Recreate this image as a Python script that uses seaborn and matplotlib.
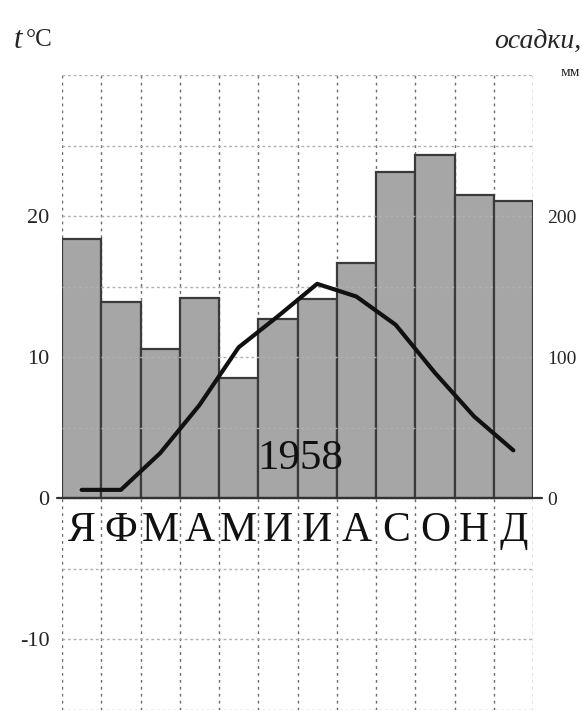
import numpy as np
import pandas as pd
import matplotlib
matplotlib.use("Agg")
import matplotlib.pyplot as plt
import seaborn as sns

months = ["Я", "Ф", "М", "А", "М", "И", "И", "А", "С", "О", "Н", "Д"]
precip_mm = [184, 139, 106, 142, 85, 127, 141, 167, 231, 243, 215, 211]
temp_c = [0.6, 0.6, 3.2, 6.6, 10.7, 12.9, 15.2, 14.3, 12.3, 8.9, 5.8, 3.4]
temp_ticks = [-10, 0, 10, 20]
precip_ticks = [0, 100, 200]
year_label = "1958"

sns.set_theme(style="white")
plt.rcParams["font.family"] = ["Liberation Serif", "DejaVu Serif"]

df = pd.DataFrame({"m": np.arange(12), "precip": precip_mm, "temp": temp_c})

fig = plt.figure(figsize=(5.82, 7.11), dpi=100)
W, H = 582, 711
x0, x1 = 62, 533
ytop, ybot = 75, 710
axP = fig.add_axes([x0 / W, (H - ybot) / H, (x1 - x0) / W, (ybot - ytop) / H])

sns.barplot(data=df, x="m", y="precip", ax=axP, color="#a6a6a6", width=1.0,
            edgecolor="#3a3a3a", linewidth=1.6, saturation=1)
axP.set_ylim(-150, 300)
axP.set_xlim(-0.5, 11.5)

axT = axP.twinx()
sns.lineplot(data=df, x="m", y="temp", ax=axT, color="#111111", linewidth=3.0)
axT.set_ylim(-15, 30)
axT.set_xlim(-0.5, 11.5)

for a in (axP, axT):
    for s in a.spines.values():
        s.set_visible(False)
    a.set_xlabel("")
    a.set_ylabel("")

axP.set_zorder(0)
axT.set_zorder(1)
axT.patch.set_visible(False)

# horizontal grid (temperature axis)
grid_vals = list(range(-15, 31, 5))
axT.set_yticks(grid_vals)
axT.set_yticklabels([str(v) if v in temp_ticks else "" for v in grid_vals])
axT.yaxis.tick_left()
axT.tick_params(axis="y", length=0, pad=9, labelsize=16)
axT.grid(True, axis="y", color="#b0b0b0", linestyle=(0, (2, 2)), linewidth=1.0)

# vertical grid at month boundaries (behind the bars)
axP.set_axisbelow(True)
axP.xaxis.set_major_locator(matplotlib.ticker.FixedLocator(np.arange(-0.5, 12, 1)))
axP.xaxis.set_major_formatter(matplotlib.ticker.NullFormatter())
axP.tick_params(axis="x", length=0, labelbottom=False)
axP.grid(True, axis="x", color="#6a6a6a", linestyle=(0, (2, 3)), linewidth=1.0)
axP.grid(False, axis="y")

axT.axhline(0, color="#333333", linewidth=1.6, xmin=-0.01, xmax=1.02, clip_on=False)

axP.set_yticks(precip_ticks)
axP.set_yticklabels([str(v) for v in precip_ticks])
axP.yaxis.tick_right()
axP.tick_params(axis="y", length=0, pad=10, labelsize=14)

for i, m in enumerate(months):
    axT.text(i, -2.3, m, ha="center", va="center", fontsize=30, color="#111111")
axT.text(5.56, 2.8, year_label, ha="center", va="center", fontsize=31, color="#111111")

fig.text(14 / W, 1 - 40 / H, "t", ha="left", va="center", fontsize=22,
         fontstyle="italic")
fig.text(26 / W, 1 - 40 / H, "°C", ha="left", va="center", fontsize=18)
fig.text(581 / W, 1 - 42 / H, "осадки,", ha="right", va="center", fontsize=20,
         fontstyle="italic")
fig.text(580 / W, 1 - 72 / H, "мм", ha="right", va="center", fontsize=11)

fig.savefig("out.png", dpi=100)
